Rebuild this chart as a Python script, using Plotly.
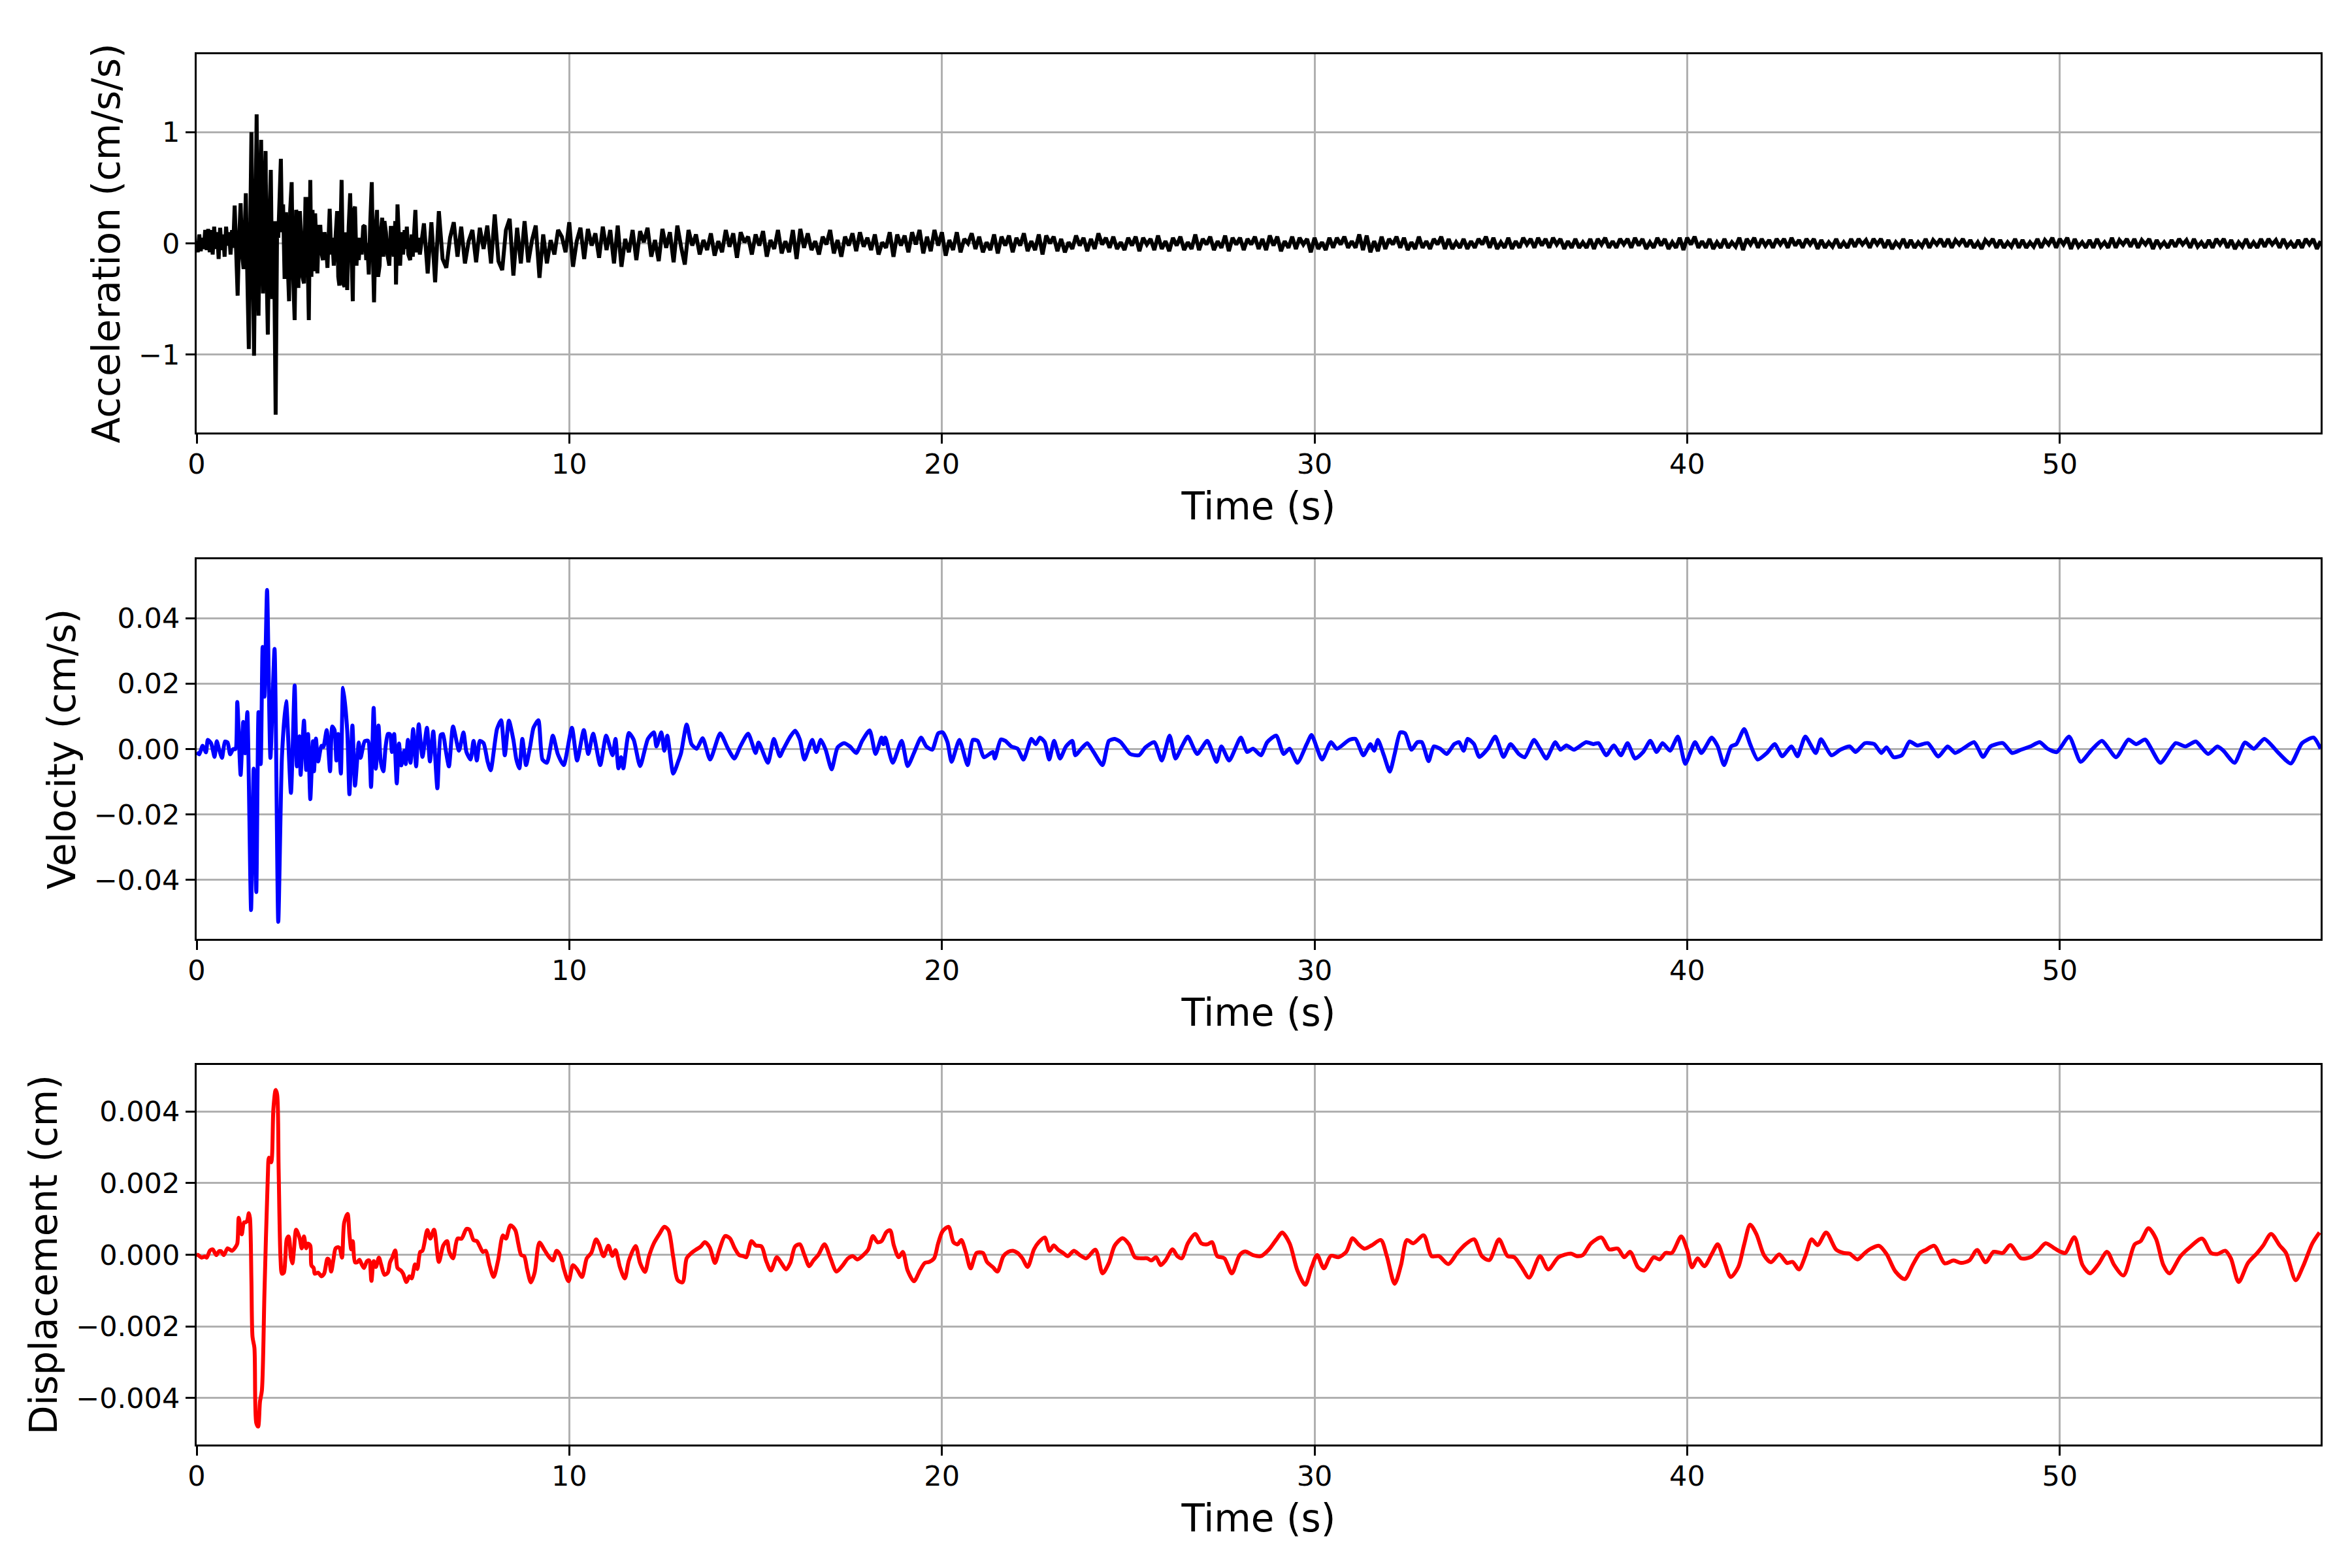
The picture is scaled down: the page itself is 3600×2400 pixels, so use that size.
import numpy as np
import plotly.graph_objects as go
from plotly.subplots import make_subplots

# ---- acceleration (cm/s/s): turning points for the strong-motion part ----
acc_early_t = [0.00, 0.03, 0.07, 0.11, 0.15, 0.19, 0.23, 0.27, 0.31, 0.35, 0.39, 0.43, 0.47, 0.51,
               0.55, 0.59, 0.63, 0.67, 0.71, 0.75, 0.79, 0.83, 0.87, 0.91, 0.95, 0.98, 1.02, 1.10,
               1.14, 1.18, 1.22, 1.26, 1.29, 1.32, 1.36, 1.40, 1.44, 1.47, 1.51, 1.54, 1.58, 1.61,
               1.64, 1.66, 1.70, 1.73, 1.76, 1.78, 1.82, 1.85, 1.88, 1.91, 1.95, 1.99, 2.03, 2.07,
               2.12, 2.16, 2.19, 2.22, 2.26, 2.29, 2.32, 2.36, 2.40, 2.44, 2.48, 2.51, 2.55, 2.58,
               2.63, 2.67, 2.70, 2.73, 2.77, 2.80, 2.84, 2.88, 2.92, 2.95, 2.98, 3.01, 3.05, 3.08,
               3.11, 3.14, 3.18, 3.21, 3.24, 3.28, 3.32, 3.36, 3.39, 3.43, 3.47, 3.51, 3.54, 3.57,
               3.61, 3.64, 3.68, 3.72, 3.77, 3.80, 3.83, 3.86, 3.89, 3.93, 3.97, 4.00, 4.04, 4.08,
               4.12, 4.15, 4.19, 4.22, 4.25, 4.29, 4.32, 4.35, 4.39, 4.43, 4.47, 4.51, 4.55, 4.58,
               4.62, 4.66, 4.70, 4.73, 4.76, 4.80, 4.84, 4.87, 4.91, 4.94, 4.98, 5.01, 5.04, 5.08,
               5.12, 5.17, 5.21, 5.25, 5.29, 5.33, 5.35, 5.39, 5.43, 5.46, 5.50, 5.54, 5.58, 5.61,
               5.64, 5.68, 5.73, 5.77, 5.80, 5.84, 5.87, 5.91, 5.95, 5.99]
acc_early_v = [0.02, -0.08, 0.08, -0.07, 0.05, -0.05, 0.12, -0.06, 0.13, -0.08, 0.12, -0.10, 0.15, -0.05,
               0.10, -0.14, 0.14, -0.06, 0.08, -0.12, 0.15, -0.02, 0.10, -0.10, 0.12, -0.04, 0.34, -0.47,
               0.05, 0.36, -0.10, -0.23, 0.10, 0.45, -0.30, -0.95, 0.20, 1.00, -0.20, -1.01, 0.30, 1.16,
               -0.20, -0.65, 0.40, 0.93, -0.10, -0.45, 0.50, 0.83, -0.30, -0.82, 0.20, 0.66, -0.50, 0.20,
               -1.54, 0.20, 0.05, 0.47, 0.76, 0.10, 0.35, -0.32, 0.28, -0.15, -0.52, 0.30, 0.55, -0.20,
               -0.69, 0.30, 0.25, -0.40, 0.29, 0.10, -0.30, -0.36, 0.40, 0.40, -0.30, -0.69, 0.57, -0.30,
               0.30, -0.25, 0.27, -0.10, -0.27, 0.15, 0.15, -0.10, -0.15, 0.10, 0.00, -0.22, 0.10, 0.31,
               -0.10, 0.05, -0.20, 0.10, 0.29, -0.30, -0.38, 0.10, 0.57, -0.36, -0.39, 0.10, -0.42, 0.15,
               0.45, 0.00, -0.52, 0.30, 0.33, -0.20, 0.05, -0.15, 0.05, -0.10, 0.15, 0.16, -0.15, 0.00,
               -0.28, 0.20, 0.55, -0.10, -0.53, 0.10, 0.30, -0.30, -0.20, 0.10, 0.23, -0.12, 0.20, 0.10,
               -0.10, -0.20, 0.14, 0.14, -0.12, 0.20, -0.37, 0.35, -0.05, -0.20, 0.10, -0.10, 0.12, -0.05,
               0.15, -0.10, -0.15, 0.08, -0.12, 0.10, 0.30, -0.08, 0.05, -0.10]

# coda: one value every 0.1 s from 6.1 s to 57.0 s (one row = 1 s)
acc_tail_v = [
    0.18, -0.27, 0.19, -0.35, 0.29, -0.14, -0.22, 0.05, 0.19, -0.12,
    0.15, -0.18, 0.02, 0.12, -0.17, 0.14, -0.05, 0.16, -0.18, 0.26,
    -0.16, -0.24, 0.12, 0.22, -0.29, 0.14, -0.18, 0.20, -0.17, 0.03,
    0.16, -0.31, 0.08, -0.18, 0.03, -0.10, 0.12, 0.06, -0.08, 0.19,
    -0.21, 0.02, 0.14, -0.14, 0.13, -0.02, 0.09, -0.13, 0.15, -0.06,
    0.12, -0.18, 0.16, -0.21, 0.04, -0.08, 0.12, -0.15, 0.11, 0.01,
    0.14, -0.12, 0.03, -0.16, 0.13, -0.04, 0.10, -0.17, 0.16, -0.03,
    -0.19, 0.12, -0.02, 0.08, -0.10, 0.03, -0.06, 0.09, -0.11, 0.02,
    -0.08, 0.12, -0.03, 0.09, -0.13, 0.10, 0.01, 0.06, -0.10, 0.08,
    -0.02, 0.11, -0.12, 0.03, -0.05, 0.12, -0.09, 0.02, -0.08, 0.12,
    -0.14, 0.13, -0.04, 0.09, -0.06, 0.02, -0.10, 0.06, -0.01, 0.12,
    -0.09, 0.03, -0.12, 0.06, -0.02, 0.09, -0.07, 0.10, -0.03, 0.05,
    -0.06, 0.08, -0.10, 0.01, -0.04, 0.10, -0.12, 0.08, -0.02, 0.07,
    -0.08, 0.10, -0.01, 0.12, -0.09, 0.06, -0.07, 0.12, -0.02, 0.10,
    -0.11, 0.03, -0.06, 0.10, -0.08, 0.04, 0.00, 0.09, -0.05, 0.06,
    -0.08, 0.01, -0.06, 0.08, -0.09, 0.06, -0.02, 0.07, -0.08, 0.05,
    -0.02, 0.09, -0.07, 0.02, -0.06, 0.08, -0.10, 0.07, 0.00, 0.06,
    -0.07, 0.04, -0.08, 0.01, -0.05, 0.07, -0.02, 0.05, -0.07, 0.04,
    -0.05, 0.09, -0.01, 0.05, -0.04, 0.06, -0.05, 0.01, -0.06, 0.05,
    -0.02, 0.06, -0.07, 0.05, -0.01, 0.04, -0.06, 0.07, -0.05, 0.02,
    -0.07, 0.05, -0.02, 0.06, -0.06, 0.01, -0.05, 0.08, -0.06, 0.04,
    -0.01, 0.06, -0.06, 0.02, -0.04, 0.07, -0.07, 0.05, -0.01, 0.05,
    -0.06, 0.04, -0.01, 0.06, -0.05, 0.04, -0.06, 0.07, -0.02, 0.06,
    -0.07, 0.02, -0.04, 0.06, -0.05, 0.05, -0.01, 0.04, -0.08, 0.05,
    -0.05, 0.01, -0.06, 0.05, -0.04, 0.05, -0.01, 0.06, -0.04, 0.02,
    -0.04, 0.08, -0.06, 0.07, -0.08, 0.02, -0.07, 0.06, -0.05, 0.04,
    -0.01, 0.06, -0.04, 0.05, -0.06, 0.01, -0.05, 0.06, -0.04, 0.02,
    -0.05, 0.04, -0.01, 0.06, -0.05, 0.04, -0.05, 0.01, -0.04, 0.04,
    -0.05, 0.02, -0.04, 0.04, -0.01, 0.06, -0.04, 0.05, -0.05, 0.01,
    -0.04, 0.05, -0.05, 0.02, -0.04, 0.05, -0.01, 0.04, -0.04, 0.05,
    -0.02, 0.04, -0.04, 0.05, -0.01, 0.04, -0.05, 0.02, -0.04, 0.04,
    -0.04, 0.01, -0.04, 0.04, -0.05, 0.04, -0.01, 0.05, -0.04, 0.02,
    -0.04, 0.04, -0.01, 0.04, -0.04, 0.05, -0.02, 0.04, -0.05, 0.01,
    -0.04, 0.05, -0.02, 0.04, -0.05, 0.01, -0.04, 0.05, -0.06, 0.05,
    -0.01, 0.06, -0.04, 0.02, -0.04, 0.04, -0.05, 0.01, -0.04, 0.04,
    -0.04, 0.01, -0.03, 0.05, -0.06, 0.04, -0.01, 0.05, -0.04, 0.04,
    -0.02, 0.03, -0.04, 0.04, -0.01, 0.04, -0.04, 0.05, -0.02, 0.03,
    -0.04, 0.04, -0.01, 0.04, -0.05, 0.03, -0.04, 0.01, -0.03, 0.04,
    -0.04, 0.01, -0.04, 0.04, -0.03, 0.04, -0.01, 0.03, -0.04, 0.04,
    -0.01, 0.04, -0.04, 0.03, -0.05, 0.01, -0.03, 0.04, -0.04, 0.03,
    -0.04, 0.01, -0.03, 0.04, -0.04, 0.03, -0.01, 0.04, -0.03, 0.04,
    -0.04, 0.03, -0.01, 0.04, -0.03, 0.03, -0.04, 0.01, -0.05, 0.03,
    -0.01, 0.04, -0.04, 0.03, -0.04, 0.01, -0.03, 0.04, -0.04, 0.03,
    -0.04, 0.01, -0.03, 0.04, -0.04, 0.03, -0.01, 0.05, -0.04, 0.04,
    -0.01, 0.05, -0.05, 0.04, -0.03, 0.01, -0.04, 0.03, -0.04, 0.04,
    -0.03, 0.01, -0.04, 0.05, -0.04, 0.03, -0.01, 0.04, -0.03, 0.04,
    -0.04, 0.03, -0.01, 0.04, -0.05, 0.03, -0.03, 0.01, -0.04, 0.03,
    -0.03, 0.04, -0.01, 0.03, -0.04, 0.04, -0.03, 0.01, -0.04, 0.03,
    -0.04, 0.04, -0.01, 0.04, -0.04, 0.03, -0.05, 0.01, -0.03, 0.04,
    -0.04, 0.01, -0.04, 0.04, -0.03, 0.04, -0.01, 0.03, -0.04, 0.04,
    -0.03, 0.01, -0.04, 0.03, -0.04, 0.04, -0.01, 0.04, -0.05, 0.02,
]
acc_tail_t = np.arange(61, 61 + len(acc_tail_v)) / 10.0

# ---- velocity (cm/s): turning points ----
vel_t = [0.00, 0.07, 0.16, 0.25, 0.30, 0.39, 0.48, 0.54, 0.60, 0.68, 0.76, 0.83, 0.90, 0.98, 1.04,
         1.09, 1.18, 1.25, 1.30, 1.36, 1.46, 1.53, 1.60, 1.66, 1.72, 1.77, 1.82, 1.89, 1.98, 2.09,
         2.19, 2.29, 2.40, 2.53, 2.63, 2.69, 2.76, 2.79, 2.88, 2.94, 2.99, 3.05, 3.12, 3.15, 3.20,
         3.26, 3.35, 3.40, 3.49, 3.58, 3.64, 3.70, 3.75, 3.80, 3.87, 3.93, 4.04, 4.10, 4.18, 4.25,
         4.35, 4.40, 4.51, 4.60, 4.68, 4.75, 4.81, 4.88, 4.94, 5.01, 5.07, 5.13, 5.19, 5.24, 5.30,
         5.37, 5.43, 5.49, 5.57, 5.61, 5.67, 5.74, 5.81, 5.89, 5.96, 6.06, 6.18, 6.26, 6.35, 6.46,
         6.55, 6.61, 6.68, 6.77, 6.88, 7.04, 7.16, 7.24, 7.35, 7.43, 7.52, 7.60, 7.70, 7.81, 7.89,
         8.06, 8.17, 8.27, 8.38, 8.50, 8.58, 8.66, 8.74, 8.84, 8.95, 9.04, 9.17, 9.28, 9.40, 9.56,
         9.69, 9.85, 10.07, 10.21, 10.39, 10.51, 10.64, 10.83, 10.99, 11.16, 11.24, 11.32, 11.39, 11.45,
         11.60, 11.73, 11.90, 12.11, 12.27, 12.34, 12.47, 12.55, 12.63, 12.79, 12.92, 13.00, 13.15, 13.28,
         13.42, 13.58, 13.78, 14.05, 14.26, 14.43, 14.59, 14.80, 15.00, 15.08, 15.33, 15.49, 15.65, 15.74,
         15.93, 16.06, 16.19, 16.31, 16.52, 16.63, 16.75, 16.88, 17.04, 17.20, 17.37, 17.53, 17.70, 17.86,
         18.06, 18.22, 18.38, 18.43, 18.48, 18.68, 18.92, 19.08, 19.25, 19.44, 19.58, 19.74, 19.90, 20.02,
         20.15, 20.26, 20.47, 20.69, 20.83, 20.96, 21.13, 21.37, 21.42, 21.58, 21.70, 21.86, 22.03, 22.19,
         22.40, 22.52, 22.63, 22.76, 22.88, 23.01, 23.17, 23.33, 23.50, 23.58, 23.74, 23.90, 24.07, 24.31,
         24.48, 24.64, 24.80, 25.05, 25.29, 25.46, 25.70, 25.90, 26.11, 26.27, 26.44, 26.60, 26.85, 27.12,
         27.37, 27.50, 27.71, 28.02, 28.19, 28.35, 28.56, 28.73, 28.97, 29.17, 29.33, 29.54, 29.79, 29.92,
         30.20, 30.44, 30.60, 30.93, 31.10, 31.31, 31.50, 31.60, 31.70, 31.86, 32.02, 32.15, 32.30, 32.43,
         32.60, 32.76, 32.88, 33.06, 33.20, 33.37, 33.55, 33.75, 33.88, 34.00, 34.11, 34.28, 34.42, 34.65,
         34.85, 35.07, 35.26, 35.48, 35.64, 35.89, 36.05, 36.22, 36.46, 36.60, 36.76, 36.96, 37.29, 37.48,
         37.62, 37.83, 38.03, 38.22, 38.40, 38.60, 38.82, 39.01, 39.18, 39.34, 39.54, 39.75, 39.95, 40.21,
         40.38, 40.66, 40.82, 40.99, 41.18, 41.32, 41.53, 41.69, 41.89, 42.14, 42.35, 42.55, 42.80, 42.96,
         43.17, 43.45, 43.59, 43.87, 44.11, 44.36, 44.52, 44.77, 45.02, 45.21, 45.35, 45.54, 45.76, 45.97,
         46.17, 46.46, 46.74, 46.99, 47.19, 47.40, 47.70, 47.94, 48.14, 48.47, 48.72, 48.96, 49.21, 49.46,
         49.67, 49.92, 50.25, 50.56, 50.86, 51.13, 51.51, 51.84, 52.05, 52.29, 52.70, 53.11, 53.37, 53.65,
         53.98, 54.23, 54.39, 54.69, 54.97, 55.21, 55.49, 55.87, 56.20, 56.50, 56.81, 57.00]
vel_v = [-0.0010, -0.0016, 0.0010, -0.0010, 0.0028, 0.0017, -0.0024, 0.0024, 0.0000, -0.0027, 0.0023,
         0.0020, -0.0016, 0.0000, 0.0000, 0.0144, -0.0079, 0.0083, -0.0013, 0.0113, -0.0492, -0.0060,
         -0.0437, 0.0113, -0.0046, 0.0312, 0.0160, 0.0486, -0.0027, 0.0306, -0.0528, -0.0020, 0.0146,
         -0.0134, 0.0194, -0.0053, 0.0039, -0.0079, 0.0087, -0.0064, 0.0046, -0.0153, 0.0024, -0.0068,
         0.0032, -0.0038, 0.0010, 0.0006, 0.0058, -0.0068, 0.0069, 0.0058, -0.0035, 0.0046, -0.0075,
         0.0187, 0.0058, -0.0138, 0.0072, -0.0112, 0.0020, -0.0027, 0.0024, 0.0025, -0.0116, 0.0126,
         -0.0060, 0.0072, -0.0038, -0.0068, 0.0006, 0.0046, 0.0045, -0.0009, 0.0046, -0.0105, 0.0017,
         -0.0050, -0.0005, -0.0046, 0.0028, -0.0042, 0.0061, -0.0053, 0.0076, -0.0024, 0.0065, -0.0038,
         0.0054, -0.0120, 0.0043, 0.0046, 0.0000, -0.0053, 0.0069, -0.0005, 0.0051, -0.0009, -0.0032,
         0.0025, -0.0035, 0.0025, 0.0018, -0.0039, -0.0065, 0.0061, 0.0088, -0.0019, 0.0087, 0.0028,
         -0.0032, -0.0059, 0.0031, -0.0049, 0.0008, 0.0065, 0.0088, -0.0032, -0.0042, 0.0041, -0.0015,
         -0.0049, 0.0065, -0.0035, 0.0058, -0.0015, 0.0047, -0.0049, 0.0041, -0.0019, 0.0031, -0.0059,
         -0.0025, -0.0059, 0.0049, 0.0028, -0.0052, 0.0031, 0.0051, 0.0008, 0.0051, -0.0005, 0.0041,
         -0.0075, -0.0039, -0.0012, 0.0075, 0.0015, 0.0001, 0.0033, -0.0032, 0.0048, 0.0001, -0.0029,
         0.0008, 0.0047, -0.0012, 0.0020, -0.0042, 0.0031, -0.0022, -0.0002, 0.0038, 0.0056, 0.0028,
         -0.0032, 0.0028, -0.0009, 0.0028, -0.0002, -0.0062, 0.0005, 0.0018, 0.0008, -0.0012, 0.0025,
         0.0057, -0.0015, 0.0035, 0.0015, 0.0035, -0.0042, 0.0025, -0.0052, -0.0012, 0.0035, 0.0008,
         -0.0002, 0.0048, 0.0051, 0.0021, -0.0039, 0.0028, -0.0049, 0.0028, 0.0025, -0.0025, -0.0009,
         -0.0029, 0.0029, 0.0025, 0.0008, 0.0001, -0.0032, 0.0031, 0.0015, 0.0035, 0.0021, -0.0032,
         0.0025, -0.0029, 0.0008, 0.0025, -0.0019, 0.0001, 0.0018, -0.0009, -0.0049, 0.0025, 0.0031,
         0.0021, -0.0015, -0.0019, 0.0005, 0.0021, -0.0035, 0.0041, -0.0029, 0.0008, 0.0038, -0.0015,
         0.0025, -0.0039, 0.0008, -0.0035, 0.0035, -0.0009, 0.0001, -0.0019, 0.0021, 0.0041, -0.0015,
         0.0001, -0.0042, 0.0015, 0.0043, -0.0032, 0.0021, 0.0001, 0.0028, 0.0031, -0.0019, 0.0015,
         -0.0005, 0.0028, -0.0019, -0.0069, -0.0015, 0.0051, 0.0048, -0.0002, 0.0021, 0.0021, -0.0037,
         0.0008, 0.0001, -0.0015, 0.0015, 0.0021, -0.0005, 0.0031, 0.0015, -0.0024, 0.0001, 0.0038,
         -0.0024, 0.0015, -0.0015, -0.0025, 0.0028, 0.0001, -0.0029, 0.0021, -0.0002, 0.0011, -0.0002,
         0.0021, 0.0015, 0.0018, -0.0019, 0.0011, -0.0019, 0.0018, -0.0029, -0.0009, 0.0025, -0.0009,
         0.0018, -0.0005, 0.0038, -0.0045, 0.0021, -0.0012, 0.0035, 0.0008, -0.0049, 0.0008, 0.0015,
         0.0061, 0.0015, -0.0032, -0.0012, 0.0015, -0.0022, 0.0008, -0.0022, 0.0038, -0.0012, 0.0030,
         -0.0019, -0.0002, 0.0008, -0.0009, 0.0018, 0.0015, -0.0012, 0.0005, -0.0025, -0.0019, 0.0023,
         0.0011, 0.0018, -0.0023, 0.0008, -0.0012, 0.0001, 0.0021, -0.0024, 0.0008, 0.0018, -0.0012,
         -0.0002, 0.0008, 0.0021, 0.0001, -0.0009, 0.0038, -0.0039, -0.0002, 0.0025, -0.0025, 0.0029,
         0.0015, 0.0029, -0.0042, 0.0018, 0.0008, 0.0023, -0.0015, 0.0008, -0.0005, -0.0042, 0.0020,
         0.0001, 0.0031, -0.0012, -0.0044, 0.0018, 0.0035, 0.0001]

# ---- displacement (cm): turning points ----
disp_t = [0.00, 0.04, 0.13, 0.22, 0.27, 0.36, 0.43, 0.53, 0.60, 0.65, 0.73, 0.83, 0.95, 1.04, 1.09,
          1.13, 1.21, 1.27, 1.32, 1.36, 1.40, 1.43, 1.47, 1.50, 1.55, 1.60, 1.65, 1.70, 1.75, 1.82,
          1.91, 1.94, 2.00, 2.06, 2.12, 2.16, 2.20, 2.25, 2.29, 2.34, 2.38, 2.42, 2.47, 2.53, 2.57,
          2.61, 2.67, 2.73, 2.77, 2.82, 2.88, 2.94, 2.99, 3.05, 3.08, 3.14, 3.17, 3.26, 3.35, 3.42,
          3.51, 3.55, 3.61, 3.67, 3.73, 3.80, 3.84, 3.90, 3.96, 4.05, 4.10, 4.15, 4.19, 4.25, 4.31,
          4.37, 4.43, 4.49, 4.57, 4.63, 4.69, 4.75, 4.81, 4.89, 4.95, 5.04, 5.13, 5.19, 5.25, 5.33,
          5.39, 5.48, 5.54, 5.63, 5.71, 5.77, 5.86, 5.92, 6.00, 6.06, 6.19, 6.27, 6.37, 6.50, 6.62,
          6.72, 6.78, 6.88, 7.00, 7.11, 7.24, 7.32, 7.43, 7.52, 7.60, 7.68, 7.76, 7.86, 7.97, 8.09,
          8.22, 8.30, 8.42, 8.55, 8.63, 8.71, 8.79, 8.87, 8.97, 9.07, 9.20, 9.33, 9.44, 9.56, 9.66,
          9.77, 9.85, 9.98, 10.10, 10.21, 10.34, 10.47, 10.59, 10.72, 10.80, 10.92, 11.05, 11.16, 11.24,
          11.36, 11.49, 11.60, 11.78, 11.90, 12.03, 12.14, 12.27, 12.43, 12.55, 12.66, 12.79, 12.91, 13.04,
          13.15, 13.28, 13.40, 13.53, 13.64, 13.77, 13.91, 14.02, 14.18, 14.31, 14.43, 14.56, 14.67, 14.75,
          14.89, 15.00, 15.16, 15.28, 15.41, 15.57, 15.69, 15.82, 15.93, 16.06, 16.19, 16.31, 16.44, 16.55,
          16.68, 16.85, 17.01, 17.17, 17.32, 17.48, 17.61, 17.73, 17.89, 18.02, 18.15, 18.27, 18.38, 18.51,
          18.61, 18.71, 18.84, 18.95, 19.08, 19.25, 19.41, 19.54, 19.66, 19.79, 19.90, 20.02, 20.18, 20.31,
          20.42, 20.52, 20.64, 20.77, 20.93, 21.10, 21.21, 21.37, 21.49, 21.65, 21.78, 21.91, 22.03, 22.16,
          22.30, 22.47, 22.60, 22.76, 22.89, 23.00, 23.12, 23.25, 23.38, 23.54, 23.70, 23.87, 24.12, 24.31,
          24.48, 24.64, 24.85, 25.02, 25.18, 25.34, 25.51, 25.62, 25.75, 25.87, 26.00, 26.19, 26.32, 26.44,
          26.60, 26.80, 26.96, 27.12, 27.25, 27.39, 27.58, 27.78, 27.99, 28.14, 28.35, 28.56, 28.77, 29.00,
          29.13, 29.33, 29.54, 29.75, 29.92, 30.07, 30.25, 30.44, 30.64, 30.85, 31.02, 31.18, 31.34, 31.53,
          31.78, 31.94, 32.15, 32.32, 32.48, 32.65, 32.93, 33.14, 33.34, 33.59, 33.83, 34.05, 34.28, 34.49,
          34.69, 34.95, 35.18, 35.36, 35.56, 35.76, 36.05, 36.27, 36.55, 36.88, 37.04, 37.20, 37.42, 37.70,
          37.91, 38.14, 38.31, 38.47, 38.68, 38.85, 39.10, 39.26, 39.42, 39.59, 39.84, 40.00, 40.13, 40.28,
          40.46, 40.66, 40.82, 40.99, 41.17, 41.37, 41.53, 41.69, 41.86, 42.06, 42.25, 42.47, 42.68, 42.83,
          43.00, 43.17, 43.34, 43.50, 43.73, 44.00, 44.19, 44.36, 44.57, 44.77, 44.93, 45.15, 45.35, 45.59,
          45.84, 46.05, 46.25, 46.41, 46.63, 46.91, 47.15, 47.35, 47.57, 47.78, 48.01, 48.22, 48.47, 48.67,
          48.96, 49.21, 49.42, 49.62, 49.87, 50.03, 50.15, 50.39, 50.61, 50.81, 51.02, 51.27, 51.46, 51.71,
          52.01, 52.17, 52.38, 52.58, 52.78, 52.94, 53.24, 53.49, 53.82, 54.06, 54.23, 54.44, 54.59, 54.80,
          55.05, 55.30, 55.46, 55.67, 55.90, 56.07, 56.33, 56.53, 56.78, 56.97]
disp_v = [0.00000, -0.00001, -0.00008, -0.00005, -0.00008, 0.00012, 0.00015, -0.00001, 0.00010, 0.00010,
          -0.00001, 0.00018, 0.00011, 0.00021, 0.00031, 0.00103, 0.00057, 0.00090, 0.00091, 0.00096,
          0.00116, 0.00103, -0.00073, -0.00230, -0.00260, -0.00470, -0.00480, -0.00410, -0.00380, -0.00105,
          0.00220, 0.00271, 0.00258, 0.00408, 0.00460, 0.00447, 0.00240, -0.00008, -0.00053, -0.00050,
          -0.00008, 0.00044, 0.00051, -0.00008, -0.00024, 0.00012, 0.00070, 0.00057, 0.00044, 0.00018,
          0.00051, 0.00018, 0.00031, 0.00025, -0.00030, -0.00037, -0.00053, -0.00050, -0.00060, -0.00053,
          -0.00011, -0.00014, -0.00047, -0.00014, 0.00018, 0.00021, 0.00018, -0.00008, 0.00090, 0.00114,
          0.00057, 0.00015, 0.00038, -0.00021, -0.00021, -0.00014, -0.00027, -0.00037, -0.00018, -0.00016,
          -0.00073, -0.00018, -0.00034, -0.00008, -0.00027, -0.00056, -0.00050, -0.00021, -0.00008, 0.00012,
          -0.00037, -0.00044, -0.00053, -0.00076, -0.00060, -0.00066, -0.00027, -0.00040, 0.00008, 0.00011,
          0.00069, 0.00045, 0.00070, -0.00020, 0.00026, 0.00038, 0.00008, -0.00010, 0.00045, 0.00045,
          0.00072, 0.00070, 0.00041, 0.00038, 0.00023, 0.00008, 0.00011, -0.00029, -0.00062, -0.00016,
          0.00054, 0.00045, 0.00082, 0.00069, 0.00032, -0.00001, -0.00004, -0.00041, -0.00077, -0.00050,
          0.00034, 0.00014, -0.00004, -0.00016, 0.00011, -0.00004, -0.00038, -0.00074, -0.00029, -0.00041,
          -0.00062, -0.00010, 0.00005, 0.00043, 0.00029, -0.00004, 0.00025, -0.00003, 0.00013, -0.00035,
          -0.00066, -0.00016, 0.00024, -0.00023, -0.00048, -0.00004, 0.00032, 0.00060, 0.00078, 0.00069,
          -0.00007, -0.00071, -0.00077, -0.00010, 0.00005, 0.00014, 0.00023, 0.00035, 0.00020, -0.00023,
          0.00011, 0.00052, 0.00046, 0.00020, -0.00001, -0.00004, -0.00007, 0.00038, 0.00026, 0.00023,
          -0.00016, -0.00044, -0.00007, -0.00023, -0.00041, -0.00023, 0.00023, 0.00029, -0.00001, -0.00032,
          -0.00016, -0.00001, 0.00029, -0.00010, -0.00047, -0.00032, -0.00010, -0.00004, -0.00013, -0.00001,
          0.00014, 0.00052, 0.00035, 0.00038, 0.00063, 0.00068, 0.00026, -0.00007, 0.00008, -0.00044,
          -0.00074, -0.00044, -0.00023, -0.00020, -0.00010, 0.00032, 0.00066, 0.00078, 0.00035, 0.00029,
          0.00041, 0.00008, -0.00038, 0.00005, 0.00005, -0.00020, -0.00035, -0.00047, -0.00004, 0.00008,
          0.00011, 0.00005, -0.00010, -0.00034, 0.00015, 0.00035, 0.00048, 0.00011, 0.00026, 0.00014,
          0.00005, -0.00004, 0.00011, -0.00001, -0.00010, 0.00014, -0.00052, -0.00023, 0.00026, 0.00046,
          0.00029, -0.00007, -0.00010, -0.00010, -0.00016, -0.00007, -0.00029, -0.00016, 0.00015, -0.00004,
          -0.00010, 0.00032, 0.00058, 0.00032, 0.00029, 0.00035, -0.00004, -0.00010, -0.00052, -0.00001,
          0.00009, -0.00001, -0.00004, 0.00014, 0.00046, 0.00062, 0.00032, -0.00044, -0.00084, -0.00035,
          -0.00001, -0.00038, -0.00003, -0.00007, 0.00008, 0.00046, 0.00029, 0.00017, 0.00026, 0.00041,
          -0.00004, -0.00081, -0.00029, 0.00041, 0.00032, 0.00054, -0.00004, -0.00004, -0.00026, 0.00005,
          0.00029, 0.00043, -0.00004, -0.00015, 0.00043, -0.00004, -0.00007, -0.00035, -0.00064, -0.00004,
          -0.00041, -0.00007, 0.00003, -0.00004, -0.00001, 0.00032, 0.00048, 0.00015, 0.00017, -0.00007,
          0.00008, -0.00035, -0.00044, -0.00007, -0.00013, 0.00005, 0.00005, 0.00051, 0.00014, -0.00035,
          -0.00010, -0.00032, 0.00002, 0.00029, -0.00016, -0.00062, -0.00035, 0.00029, 0.00084, 0.00057,
          -0.00001, -0.00021, 0.00001, -0.00023, -0.00020, -0.00041, -0.00004, 0.00043, 0.00027, 0.00062,
          0.00014, 0.00005, 0.00003, -0.00013, 0.00005, 0.00017, 0.00025, 0.00002, -0.00047, -0.00068,
          -0.00029, 0.00005, 0.00014, 0.00025, -0.00024, -0.00016, -0.00023, -0.00016, 0.00013, -0.00021,
          0.00008, 0.00005, 0.00027, -0.00010, -0.00007, 0.00011, 0.00032, 0.00017, 0.00008, 0.00005,
          0.00049, -0.00029, -0.00052, -0.00029, 0.00008, -0.00029, -0.00058, 0.00029, 0.00038, 0.00074,
          0.00045, -0.00029, -0.00052, -0.00004, 0.00021, 0.00045, 0.00005, 0.00002, 0.00011, -0.00010,
          -0.00076, -0.00023, 0.00005, 0.00026, 0.00058, 0.00026, 0.00005, -0.00071, -0.00032, 0.00032,
          0.00062]

acc_t = list(acc_early_t) + list(acc_tail_t)
acc_v = acc_early_v + acc_tail_v

x_ticks = [0, 10, 20, 30, 40, 50]
acc_ticks = [-1, 0, 1]
acc_tick_text = ["\u22121", "0", "1"]
vel_ticks = [-0.04, -0.02, 0.0, 0.02, 0.04]
vel_tick_text = ["\u22120.04", "\u22120.02", "0.00", "0.02", "0.04"]
disp_ticks = [-0.004, -0.002, 0.0, 0.002, 0.004]
disp_tick_text = ["\u22120.004", "\u22120.002", "0.000", "0.002", "0.004"]

FONT = "DejaVu Sans"
GRID = "#b0b0b0"

fig = make_subplots(rows=3, cols=1)
fig.add_trace(go.Scatter(x=acc_t, y=acc_v, mode="lines",
                         line=dict(color="black", width=6)), row=1, col=1)
fig.add_trace(go.Scatter(x=vel_t, y=vel_v, mode="lines",
                         line=dict(color="blue", width=6, shape="spline", smoothing=0.6)), row=2, col=1)
fig.add_trace(go.Scatter(x=disp_t, y=disp_v, mode="lines",
                         line=dict(color="red", width=6, shape="spline", smoothing=0.8)), row=3, col=1)

# page body adds an 8 px offset, so the boxes are placed 8 px up/left
OFF = 8
x_dom = [(301 - OFF) / 3600, (3552 - OFF) / 3600]
y_doms = [[1 - (662 - OFF) / 2400, 1 - (83 - OFF) / 2400],
          [1 - (1437 - OFF) / 2400, 1 - (856 - OFF) / 2400],
          [1 - (2211 - OFF) / 2400, 1 - (1630 - OFF) / 2400]]
y_titles = ["Acceleration (cm/s/s)", "Velocity (cm/s)", "Displacement (cm)"]
y_ranges = [[-1.7, 1.7], [-0.058, 0.058], [-0.0053, 0.0053]]
y_tickvals = [acc_ticks, vel_ticks, disp_ticks]
y_ticktext = [acc_tick_text, vel_tick_text, disp_tick_text]

axis_common = dict(
    showline=True, linecolor="black", linewidth=3.3, mirror=True,
    ticks="outside", ticklen=14, tickwidth=3.3, tickcolor="black",
    showgrid=True, gridcolor=GRID, gridwidth=3.3, zeroline=False,
    tickfont=dict(family=FONT, size=43, color="black"), automargin=False,
)

for i in range(3):
    fig.update_xaxes(
        domain=x_dom, range=[0, 57], tickvals=x_ticks, ticklabelstandoff=-6,
        title=dict(text="Time (s)", font=dict(family=FONT, size=58, color="black"), standoff=21),
        row=i + 1, col=1, **axis_common)
    fig.update_yaxes(
        domain=y_doms[i], range=y_ranges[i], tickvals=y_tickvals[i], ticktext=y_ticktext[i],
        title=dict(text=y_titles[i], font=dict(family=FONT, size=58, color="black"), standoff=10),
        row=i + 1, col=1, **axis_common)

fig.update_layout(
    width=3600, height=2400, showlegend=False,
    margin=dict(l=0, r=0, t=0, b=0),
    paper_bgcolor="white", plot_bgcolor="white",
    font=dict(family=FONT, color="black"),
)

fig.write_html("out.html")
